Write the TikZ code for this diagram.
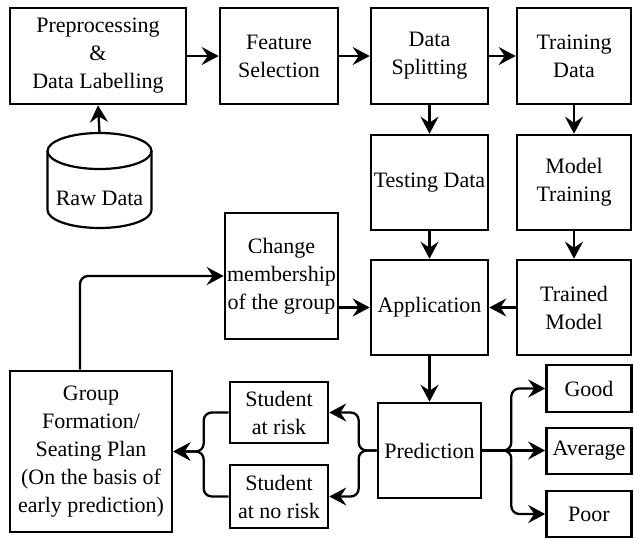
\documentclass[tikz,border=0pt]{standalone}
\usepackage{fontspec}
\newfontfamily\tnrfont{LiberationSerif}[Extension=.ttf, UprightFont=*-Regular]
\usetikzlibrary{arrows.meta}
\begin{document}
\begin{tikzpicture}[x=1pt,y=1pt,
  box/.style={draw, line width=2.6pt, inner sep=1pt, align=center,
    font=\tnrfont\fontsize{22}{28}\selectfont},
  lbl/.style={inner sep=0pt, align=center, font=\tnrfont\fontsize{22}{28}\selectfont},
  arr/.style={line width=2.3pt, -{Stealth[length=17pt,width=18pt,inset=6pt]}},
  link/.style={arr, rounded corners=8pt}]
\useasboundingbox (0,0) rectangle (634,-539);
% top row
\node[box, minimum width=176, minimum height=96] (pre) at (98,-56) {Preprocessing\\\&\\Data Labelling};
\node[box, minimum width=118, minimum height=96] (feat) at (279,-56) {Feature\\Selection};
\node[box, minimum width=117, minimum height=96] (split) at (429.5,-56) {Data\\Splitting};
\node[box, minimum width=114, minimum height=96] (train) at (574,-56) {Training\\Data};
% second row
\node[box, minimum width=117, minimum height=95] (test) at (429.5,-182.5) {Testing Data};
\node[box, minimum width=114, minimum height=95] (mtrain) at (574,-182.5) {Model\\Training};
% raw data cylinder
\coordinate (rawtop) at (99.5,-133);
\draw[line width=2.2pt] (99.5,-151) ellipse [x radius=52, y radius=18];
\draw[line width=2.2pt] (47.5,-151) -- (47.5,-210) arc [start angle=180, end angle=360, x radius=52, y radius=18] -- (151.5,-151);
\node[lbl] (raw) at (99.5,-198) {Raw Data};
% third row
\node[box, minimum width=113, minimum height=126] (change) at (281.5,-276) {Change\\membership\\of the group};
\node[box, minimum width=117, minimum height=95] (app) at (429.5,-307.5) {Application};
\node[box, minimum width=114, minimum height=95] (trained) at (574,-307.5) {Trained\\Model};
% bottom
\node[box, minimum width=103, minimum height=95] (pred) at (429.5,-450.5) {Prediction};
\node[box, minimum width=85, minimum height=47] (good) at (589,-388.5) {Good};
\node[box, minimum width=85, minimum height=46] (avg) at (589,-451) {Average};
\node[box, minimum width=85, minimum height=46] (poor) at (589,-514) {Poor};
\node[box, minimum width=98, minimum height=61] (risk) at (279,-412.5) {Student\\at risk};
\node[box, minimum width=98, minimum height=63] (norisk) at (279,-496.5) {Student\\at no risk};
\node[box, minimum width=162, minimum height=161] (group) at (91,-451.5) {Group\\Formation/\\Seating Plan\\(On the basis of\\early prediction)};
% connectors
\draw[arr] (rawtop) -- (pre.south);
\draw[arr] (pre) -- (feat);
\draw[arr] (feat) -- (split);
\draw[arr] (split) -- (train);
\draw[arr] (split) -- (test);
\draw[arr] (train) -- (mtrain);
\draw[arr] (mtrain) -- (trained);
\draw[arr] (test) -- (app);
\draw[arr] (trained) -- (app);
\draw[arr] (change.east |- app.west) -- (app.west);
\draw[arr] (app) -- (pred);
\draw[link] (pred.west) -- ++(-18,0) |- (risk.east);
\draw[link] (pred.west) -- ++(-18,0) |- (norisk.east);
\draw[link] (pred.east) -- ++(29,0) |- (good.west);
\draw[arr] (pred.east) -- (pred.east -| avg.west);
\draw[link] (pred.east) -- ++(29,0) |- (poor.west);
\draw[link] (risk.west) -- ++(-25,0) |- (group.east);
\draw[link] (norisk.west) -- ++(-25,0) |- (group.east);
\draw[link] ([xshift=-11pt]group.north) |- (change.west);
\end{tikzpicture}
\end{document}
